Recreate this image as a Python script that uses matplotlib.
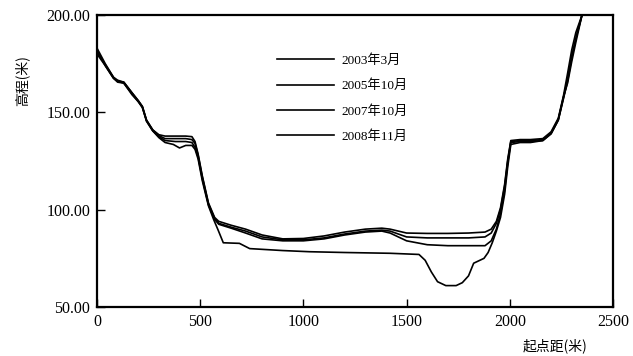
import matplotlib
matplotlib.use("Agg")
import matplotlib.pyplot as plt

# cross-section survey lines
labels = ["2003年3月", "2005年10月", "2007年10月", "2008年11月"]

x_2003 = [0, 40, 80, 100, 130, 170, 200, 220, 240, 270, 300, 330, 370, 400, 430, 460,
          475, 490, 510, 540, 565, 587, 612, 690, 740, 900, 1030, 1200, 1420, 1560,
          1590, 1620, 1650, 1690, 1740, 1770, 1800, 1825, 1855, 1875, 1895, 1915,
          1935, 1955, 1975, 1990, 2005, 2050, 2100, 2160, 2200, 2235, 2260, 2280,
          2300, 2325, 2350]
y_2003 = [182, 174, 167.5, 165.5, 165, 159, 155.5, 152.5, 145.5, 140.5, 137, 134.5,
          133.5, 131.7, 133, 133, 131, 126, 115, 102, 95, 89.5, 83, 82.7, 80, 79,
          78.4, 78, 77.6, 77, 74, 68, 63, 61, 61, 62.5, 66, 72.5, 74, 75, 78, 83,
          89, 96, 108, 122, 133.5, 134.5, 134.5, 135.5, 139, 146, 157, 166, 178,
          190, 200]

x_2005 = [0, 40, 80, 100, 130, 170, 200, 220, 240, 270, 300, 330, 380, 430, 460,
          475, 490, 510, 540, 570, 590, 650, 720, 800, 900, 1000, 1100, 1200, 1300,
          1380, 1420, 1460, 1500, 1600, 1700, 1800, 1880, 1910, 1935, 1955, 1975,
          1990, 2005, 2050, 2100, 2160, 2200, 2235, 2260, 2280, 2300, 2325, 2350]
y_2005 = [181, 174.5, 168, 166, 165, 159.5, 155.5, 152.5, 145.5, 140.5, 137.5, 135.5,
          135, 135, 134.5, 132, 127, 116, 102.5, 95, 92.5, 90.5, 88, 85, 84, 84,
          85, 87, 88.5, 89, 88, 86, 84, 82, 81.5, 81.5, 81.5, 84, 90, 98, 110,
          124, 134.5, 135, 135, 135.5, 139, 146, 157.5, 167, 179, 190, 200]

x_2007 = [0, 40, 80, 100, 130, 170, 200, 220, 240, 270, 300, 330, 380, 430, 460,
          475, 490, 510, 540, 570, 590, 650, 720, 800, 900, 1000, 1100, 1200, 1300,
          1380, 1420, 1460, 1500, 1600, 1700, 1800, 1880, 1910, 1935, 1955, 1975,
          1990, 2005, 2050, 2100, 2160, 2200, 2235, 2260, 2280, 2300, 2320, 2350]
y_2007 = [180, 174, 167.5, 166, 165.5, 160, 156, 153, 146, 141, 138, 136.5, 136.5,
          136.5, 136, 134, 128, 117, 103, 95.5, 93, 91, 89, 86, 84.5, 84.5, 85.5,
          87.5, 89, 89.5, 89, 87.5, 86, 85.5, 85.5, 85.5, 86, 88, 93, 100, 112,
          125, 135, 135.5, 135.5, 136, 139.5, 146.5, 158, 165, 176, 186, 200]

x_2008 = [0, 40, 80, 100, 130, 170, 200, 220, 240, 270, 300, 330, 380, 430, 460,
          475, 490, 510, 540, 570, 590, 650, 720, 800, 900, 1000, 1100, 1200, 1300,
          1380, 1420, 1460, 1500, 1600, 1700, 1800, 1880, 1910, 1935, 1955, 1975,
          1990, 2005, 2050, 2100, 2160, 2200, 2235, 2260, 2280, 2300, 2320, 2350]
y_2008 = [183, 175, 168, 166.5, 165.5, 160, 156, 153, 146, 141, 138.5, 137.8, 137.8,
          137.8, 137.5, 135, 128.5, 117.5, 103.5, 96, 94, 92, 90, 87, 85, 85.2,
          86.5, 88.5, 90, 90.5, 90, 89, 88, 87.8, 87.8, 88, 88.5, 90, 94, 101,
          113, 126, 135.5, 136, 136, 136.5, 140, 147, 158.5, 170, 182, 191, 200]

series_x = [x_2003, x_2005, x_2007, x_2008]
series_y = [y_2003, y_2005, y_2007, y_2008]

xticks = [0, 500, 1000, 1500, 2000, 2500]
yticks = [50, 100, 150, 200]

serif = ["Liberation Serif", "Noto Sans CJK SC"]
plt.rcParams["font.family"] = serif

fig = plt.figure(figsize=(6.33, 3.56), dpi=100)
ax = fig.add_axes([0.1532, 0.1376, 0.8152, 0.8203])

for xs, ys, lab in zip(series_x, series_y, labels):
    ax.plot(xs, ys, color="black", lw=1.2, label=lab)

ax.set_xlim(0, 2500)
ax.set_ylim(50, 200)
ax.set_xticks(xticks)
ax.set_xticklabels([str(t) for t in xticks])
ax.set_yticks(yticks)
ax.set_yticklabels(["%.2f" % t for t in yticks])
ax.tick_params(direction="in", length=6, width=1, labelsize=11.5, pad=5)
for s in ax.spines.values():
    s.set_linewidth(1.6)

ax.legend(loc="upper left", bbox_to_anchor=(0.349, 0.865), frameon=False,
          handlelength=4.3, handletextpad=0.6, labelspacing=0.95,
          borderpad=0, borderaxespad=0, prop={"family": serif, "size": 9.5})

fig.text(0.877, 0.03, "起点距(米)", ha="center", va="center", fontsize=10,
         family=["Noto Sans CJK SC"])
fig.text(0.035, 0.775, "高程(米)", ha="center", va="center", rotation=90,
         fontsize=10, family=["Noto Sans CJK SC"])

fig.savefig("out.png", dpi=100)
